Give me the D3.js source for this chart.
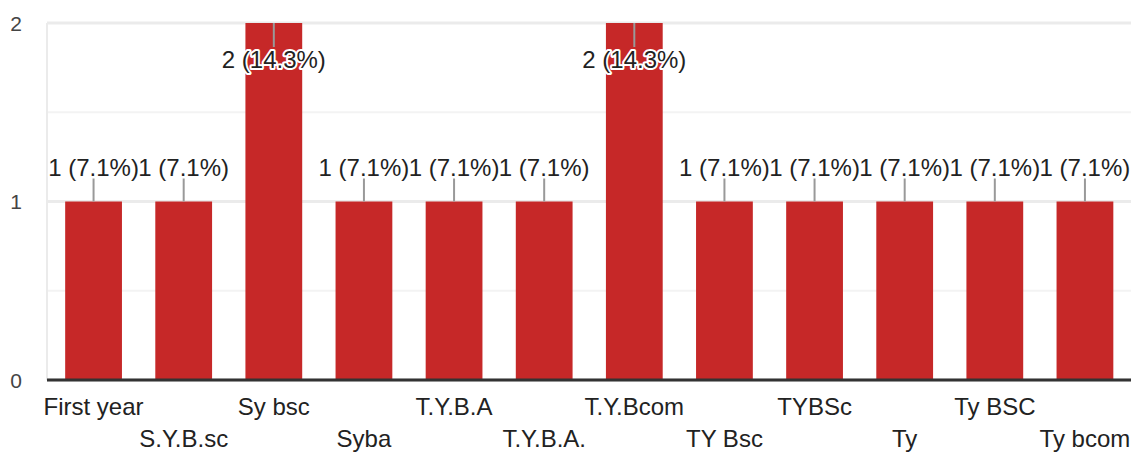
<!DOCTYPE html>
<html>
<head>
<meta charset="utf-8">
<script src="https://cdn.jsdelivr.net/npm/d3@7"></script>
<style>
  body { margin: 0; background: #fff; }
  text { font-family: "Liberation Sans", Arial, sans-serif; }
</style>
</head>
<body>
<div id="chart"></div>
<script>
// answers and their counts
var categories = ["First year", "S.Y.B.sc", "Sy bsc", "Syba", "T.Y.B.A", "T.Y.B.A.",
                  "T.Y.Bcom", "TY Bsc", "TYBSc", "Ty", "Ty BSC", "Ty bcom"];
var counts = [1, 1, 2, 1, 1, 1, 2, 1, 1, 1, 1, 1];
var yTicks = [0, 1, 2];

var width = 1139, height = 454;
var plotLeft = 47, plotRight = 1131, plotTop = 23, plotBottom = 380;

var total = d3.sum(counts);
var pct = d3.format(".1f");

var svg = d3.select("#chart").append("svg")
    .attr("width", width)
    .attr("height", height);

var x = d3.scaleBand()
    .domain(categories)
    .range([48.5, 1130])
    .paddingInner(0.37)
    .paddingOuter(0.185);

var y = d3.scaleLinear()
    .domain([0, 2])
    .range([plotBottom, plotTop]);

// grid
svg.append("g").selectAll("line")
    .data(d3.range(0, 2.01, 0.5))
  .enter().append("line")
    .attr("x1", plotLeft).attr("x2", plotRight)
    .attr("y1", function(d) { return y(d); })
    .attr("y2", function(d) { return y(d); })
    .attr("stroke", function(d) { return d % 1 === 0 ? "#ebebeb" : "#f3f3f3"; })
    .attr("stroke-width", function(d) { return d % 1 === 0 ? 3 : 2; });

svg.append("line")
    .attr("x1", plotLeft).attr("x2", plotLeft)
    .attr("y1", plotTop).attr("y2", plotBottom)
    .attr("stroke", "#ebebeb")
    .attr("stroke-width", 2);

// y labels
svg.append("g").selectAll("text")
    .data(yTicks)
  .enter().append("text")
    .attr("x", 22)
    .attr("y", function(d) { return y(d); })
    .attr("dy", "0.36em")
    .attr("text-anchor", "end")
    .attr("font-size", 21)
    .attr("fill", "#444")
    .text(function(d) { return d; });

// bars
svg.append("g").selectAll("rect")
    .data(counts)
  .enter().append("rect")
    .attr("x", function(d, i) { return x(categories[i]); })
    .attr("width", x.bandwidth())
    .attr("y", function(d) { return y(d); })
    .attr("height", function(d) { return y(0) - y(d); })
    .attr("fill", "#c62828");

// baseline
svg.append("line")
    .attr("x1", plotLeft).attr("x2", plotRight)
    .attr("y1", y(0)).attr("y2", y(0))
    .attr("stroke", "#333")
    .attr("stroke-width", 3);

// value labels with leader lines
var labels = svg.append("g").selectAll("g")
    .data(counts)
  .enter().append("g")
    .attr("transform", function(d, i) { return "translate(" + (x(categories[i]) + x.bandwidth() / 2) + ",0)"; });

function baseY(d) { return Math.max(y(d) - 26, 68); }

labels.append("line")
    .attr("y1", function(d) { return baseY(d) === 68 ? y(d) : baseY(d) + 3; })
    .attr("y2", function(d) { return baseY(d) === 68 ? baseY(d) - 21 : y(d); })
    .attr("stroke", "#999")
    .attr("stroke-width", 2);

labels.append("text")
    .attr("y", baseY)
    .attr("text-anchor", "middle")
    .attr("font-size", 24)
    .attr("fill", "#222")
    .attr("stroke", "#fff")
    .attr("stroke-width", 4)
    .attr("stroke-linejoin", "round")
    .attr("paint-order", "stroke")
    .text(function(d) { return d + " (" + pct(d / total * 100) + "%)"; });

// category labels, staggered in two rows
svg.append("g").selectAll("text")
    .data(categories)
  .enter().append("text")
    .attr("x", function(d) { return x(d) + x.bandwidth() / 2; })
    .attr("y", function(d, i) { return i % 2 === 0 ? 415 : 447; })
    .attr("text-anchor", "middle")
    .attr("font-size", 24)
    .attr("fill", "#222")
    .text(function(d) { return d; });
</script>
</body>
</html>
